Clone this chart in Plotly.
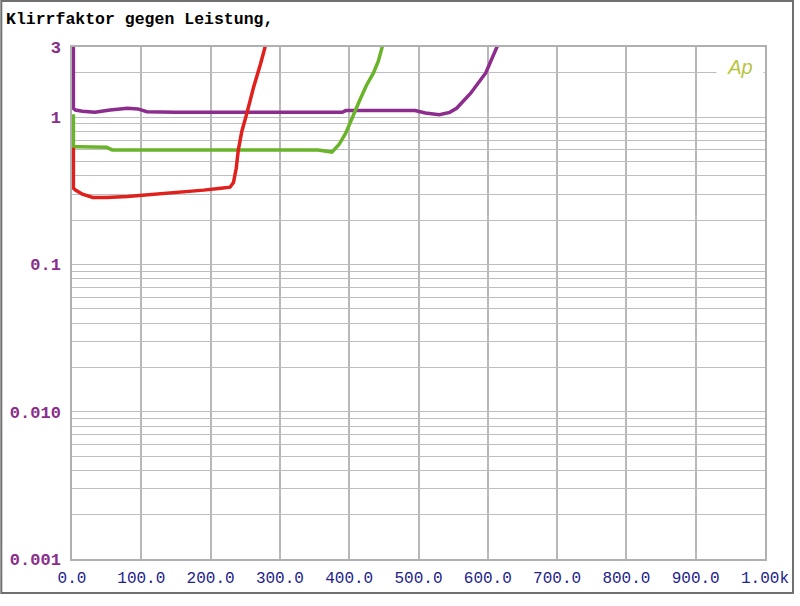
import plotly.graph_objects as go

# ---- data (W, THD %) ----
red_w = [2, 2, 5, 15, 30, 50, 80, 100, 130, 160, 190, 215, 228, 233, 237, 240, 245, 252, 262, 272, 281]
red_v = [0.62, 0.33, 0.32, 0.30, 0.285, 0.285, 0.29, 0.295, 0.30, 0.31, 0.32, 0.33, 0.335, 0.36, 0.45, 0.6, 0.8, 1.05, 1.6, 2.3, 3.3]

green_w = [2, 2, 10, 30, 50, 58, 100, 200, 300, 355, 375, 385, 395, 405, 415, 425, 435, 442, 450]
green_v = [1.05, 0.63, 0.63, 0.625, 0.625, 0.6, 0.6, 0.6, 0.6, 0.6, 0.58, 0.65, 0.78, 1.02, 1.3, 1.65, 2.0, 2.4, 3.3]

purple_w = [2, 2, 5, 15, 33, 55, 80, 95, 108, 150, 250, 390, 395, 495, 510, 530, 545, 555, 575, 597, 617]
purple_v = [3.5, 1.15, 1.12, 1.1, 1.08, 1.12, 1.15, 1.14, 1.09, 1.08, 1.08, 1.08, 1.11, 1.11, 1.07, 1.04, 1.08, 1.15, 1.45, 2.0, 3.3]

x_tickvals = [0, 100, 200, 300, 400, 500, 600, 700, 800, 900, 1000]
x_ticktext = ["0.0", "100.0", "200.0", "300.0", "400.0", "500.0", "600.0", "700.0", "800.0", "900.0", "1.00k"]

y_labels = {3: "3", 1: "1", 0.1: "0.1", 0.01: "0.010", 0.001: "0.001"}
y_gridvals = [m * 10 ** e for e in (-3, -2, -1) for m in range(1, 10)] + [1, 2, 3]

title_text = "Klirrfaktor gegen Leistung,"

# ---- figure ----
fig = go.Figure()
for w, v, c in [(purple_w, purple_v, "#8c2c8c"),
                (green_w, green_v, "#6ab42a"),
                (red_w, red_v, "#e0201c")]:
    fig.add_trace(go.Scatter(x=w, y=v, mode="lines",
                             line=dict(color=c, width=3.5), showlegend=False,
                             hoverinfo="skip"))

y_ticktext = [y_labels.get(round(v, 6), "") for v in y_gridvals]

fig.update_layout(
    width=800, height=606,
    margin=dict(l=72, r=35, t=47, b=47),
    paper_bgcolor="white", plot_bgcolor="white",
    xaxis=dict(range=[0, 1000], tickvals=x_tickvals, ticktext=x_ticktext,
               showgrid=True, gridcolor="#b8b8b8", gridwidth=1.5,
               zeroline=False, showline=True, mirror=True, automargin=False,
               linecolor="#b0b0b0", linewidth=1.5, ticks="",
               ticklabelstandoff=3,
               tickfont=dict(family="Liberation Mono", size=16, color="#22228a")),
    yaxis=dict(type="log", range=[-3, 0.47712], tickvals=y_gridvals, ticktext=y_ticktext,
               showgrid=True, gridcolor="#bdbdbd", gridwidth=1,
               zeroline=False, showline=True, mirror=True, automargin=False,
               linecolor="#b0b0b0", linewidth=1.5, ticks="",
               ticklabelstandoff=6,
               tickfont=dict(family="Liberation Mono", size=17, color="#8a2e8a", weight="bold")),
    annotations=[
        dict(text=title_text, xref="paper", yref="paper", x=-0.098, y=1.053,
             xanchor="left", yanchor="middle", showarrow=False,
             font=dict(family="Liberation Mono", size=16.5, color="black", weight="bold")),
        dict(text="Ap", xref="paper", yref="paper", x=0.93, y=0.961,
             xanchor="left", yanchor="middle", showarrow=False,
             bgcolor="white", width=44, align="center",
             font=dict(family="Liberation Sans", size=20, color="#b8c440", style="italic")),
    ],
    shapes=[
        dict(type="rect", xref="paper", yref="paper", x0=-0.102, x1=1.0404,
             y0=-0.0664, y1=1.0898, line=dict(color="#707070", width=2),
             fillcolor="rgba(0,0,0,0)", layer="below"),
    ],
)

fig.write_html("out.html", config={"displayModeBar": False},
               post_script="document.body.style.margin='0px';")
